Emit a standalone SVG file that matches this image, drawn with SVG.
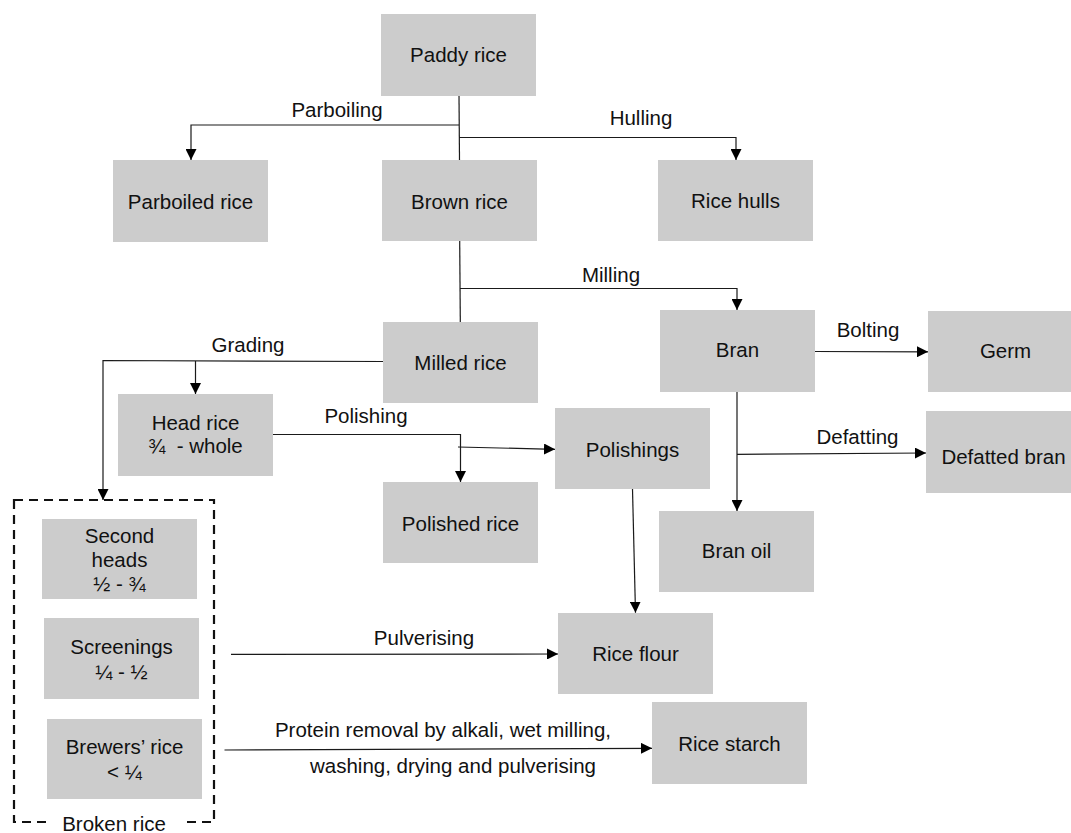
<svg xmlns="http://www.w3.org/2000/svg" width="1071" height="833" viewBox="0 0 1071 833">
  <style>
    .box { fill: #cccccc; }
    .t { font-family: "Liberation Sans", Arial, sans-serif; font-size: 20.5px; fill: #111111; text-anchor: middle; white-space: pre; }
    .lbl { font-family: "Liberation Sans", Arial, sans-serif; font-size: 20.5px; fill: #111111; text-anchor: middle; }
    .ln { fill: none; stroke: #1a1a1a; stroke-width: 1.2; }
    .arr { marker-end: url(#ah); }
  </style>
  <defs>
    <marker id="ah" markerUnits="userSpaceOnUse" markerWidth="11" markerHeight="11" viewBox="0 0 11 11" refX="11" refY="5.5" orient="auto">
      <path d="M0,0 L11,5.5 L0,11 z" fill="#000000"/>
    </marker>
  </defs>
  <rect width="1071" height="833" fill="#ffffff"/>

  <!-- broken rice group outline -->
  <g id="broken-rice">
    <rect x="14" y="500" width="200" height="322" fill="none" stroke="#111111" stroke-width="2.2" stroke-dasharray="9 6"/>
    <rect x="52" y="811" width="130" height="22" fill="#ffffff"/>
    <text class="lbl" x="114" y="831">Broken rice</text>
  </g>

  <g id="connectors">
    <!-- paddy rice: parboiling / hulling / brown rice -->
    <path class="ln" d="M459,96 L459.5,160"/>
    <path class="ln arr" d="M459,125 L191,125 L191,160"/>
    <path class="ln arr" d="M459,137.5 L736,137.5 L736,160"/>
    <text class="lbl" x="337" y="117">Parboiling</text>
    <text class="lbl" x="641" y="124.5">Hulling</text>

    <!-- brown rice: milling -->
    <path class="ln" d="M459.7,241 L460.3,322"/>
    <path class="ln arr" d="M460,288.5 L737,288.5 L737,310"/>
    <text class="lbl" x="611" y="281.5">Milling</text>

    <!-- milled rice: grading -->
    <path class="ln arr" d="M383,361.5 L103,360.5 L103,500"/>
    <path class="ln arr" d="M195.5,361 L195.5,394"/>
    <text class="lbl" x="248" y="351.5">Grading</text>

    <!-- head rice: polishing -->
    <path class="ln arr" d="M273,434.5 L460.5,434.5 L460.5,482"/>
    <path class="ln arr" d="M458,447 L555,449.3"/>
    <text class="lbl" x="366" y="423">Polishing</text>

    <!-- bran: bolting / defatting / oil -->
    <path class="ln arr" d="M815,351.5 L928,351.8"/>
    <text class="lbl" x="868" y="337">Bolting</text>
    <path class="ln arr" d="M737,391.7 L737,511"/>
    <path class="ln arr" d="M737,454.3 L926,453"/>
    <text class="lbl" x="857.5" y="444">Defatting</text>

    <!-- polishings to rice flour -->
    <path class="ln arr" d="M632.5,489 L635.5,612.7"/>

    <!-- broken rice to flour and starch -->
    <path class="ln arr" d="M231,654.3 L558,654"/>
    <text class="lbl" x="424" y="645">Pulverising</text>
    <path class="ln arr" d="M224.5,750 L652,748.3"/>
    <text class="lbl" x="443" y="737.3">Protein removal by alkali, wet milling,</text>
    <text class="lbl" x="453" y="773.3">washing, drying and pulverising</text>
  </g>

  <g id="paddy-rice"><rect class="box" x="381" y="14" width="155" height="82"/><text class="t" x="458.5" y="62.3">Paddy rice</text></g>
  <g id="parboiled-rice"><rect class="box" x="113" y="160" width="155" height="82"/><text class="t" x="190.5" y="209">Parboiled rice</text></g>
  <g id="brown-rice"><rect class="box" x="382" y="160" width="155" height="81"/><text class="t" x="459.5" y="209">Brown rice</text></g>
  <g id="rice-hulls"><rect class="box" x="658" y="160" width="155" height="81"/><text class="t" x="735.5" y="208.3">Rice hulls</text></g>
  <g id="milled-rice"><rect class="box" x="383" y="322" width="155" height="81"/><text class="t" x="460.5" y="370">Milled rice</text></g>
  <g id="bran"><rect class="box" x="660" y="310" width="155" height="82"/><text class="t" x="737.5" y="357.3">Bran</text></g>
  <g id="germ"><rect class="box" x="928" y="311" width="155" height="81"/><text class="t" x="1005.5" y="358.3">Germ</text></g>
  <g id="head-rice"><rect class="box" x="118" y="394" width="155" height="82"/><text class="t" x="195.5" y="430">Head rice</text><text class="t" x="195.5" y="453.3">¾  - whole</text></g>
  <g id="polishings"><rect class="box" x="555" y="408" width="155" height="81"/><text class="t" x="632.5" y="456.7">Polishings</text></g>
  <g id="defatted-bran"><rect class="box" x="926" y="411" width="155" height="82"/><text class="t" x="1003.5" y="464">Defatted bran</text></g>
  <g id="polished-rice"><rect class="box" x="383" y="482" width="155" height="81"/><text class="t" x="460.5" y="530.7">Polished rice</text></g>
  <g id="bran-oil"><rect class="box" x="659" y="511" width="155" height="81"/><text class="t" x="736.5" y="558.3">Bran oil</text></g>
  <g id="second-heads"><rect class="box" x="42" y="519" width="155" height="80"/><text class="t" x="119.5" y="543.3">Second</text><text class="t" x="119.5" y="567.3">heads</text><text class="t" x="119.5" y="591">½ - ¾</text></g>
  <g id="screenings"><rect class="box" x="44" y="618" width="155" height="81"/><text class="t" x="121.5" y="654">Screenings</text><text class="t" x="121.5" y="679.3">¼ - ½</text></g>
  <g id="brewers-rice"><rect class="box" x="47" y="719" width="155" height="80"/><text class="t" x="124.5" y="754">Brewers’ rice</text><text class="t" x="124.5" y="779.3">&lt; ¼</text></g>
  <g id="rice-flour"><rect class="box" x="558" y="613" width="155" height="81"/><text class="t" x="635.5" y="660.5">Rice flour</text></g>
  <g id="rice-starch"><rect class="box" x="652" y="702" width="155" height="82"/><text class="t" x="729.5" y="750.7">Rice starch</text></g>
</svg>
